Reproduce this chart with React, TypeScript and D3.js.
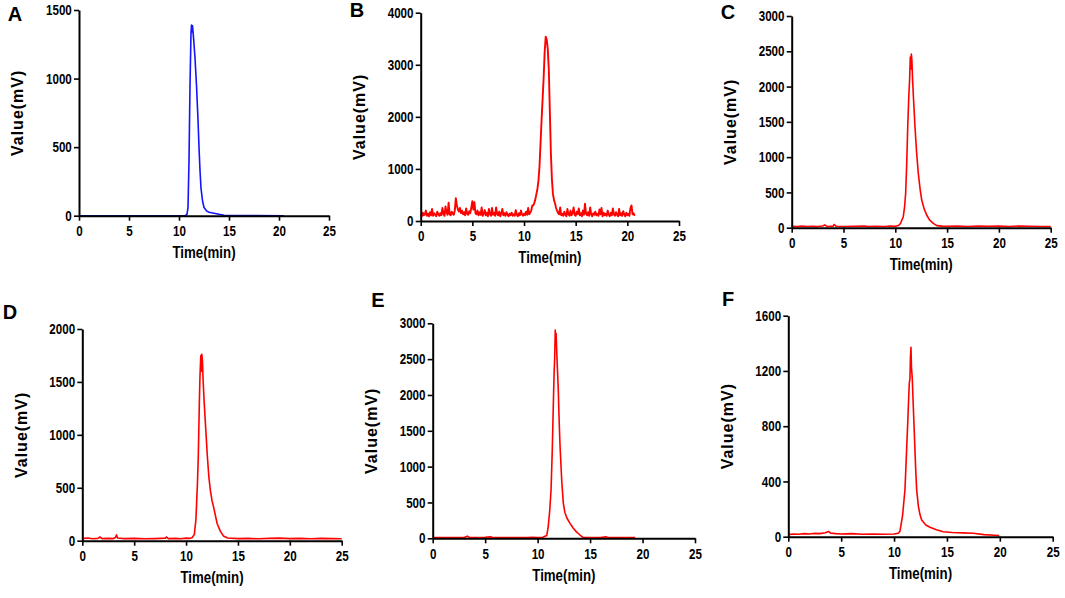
import * as d3 from "d3";
import { useEffect, useRef } from "react";

// x axis is the same on every panel
const timeTicks = [0, 5, 10, 15, 20, 25];

// panel A (blue trace), [time min, value mV]
const seriesA = [
  [0, 0], [5, 0], [10.6, 0], [10.8, 10], [10.9, 60], [11.0, 400], [11.1, 950],
  [11.2, 1330], [11.25, 1390], [11.3, 1340], [11.35, 1385], [11.45, 1300],
  [11.6, 1150], [11.75, 950], [11.9, 700], [12.0, 500], [12.1, 330], [12.2, 200],
  [12.35, 110], [12.5, 60], [12.75, 35], [13.0, 25], [13.5, 18], [14.0, 10],
  [14.5, 3], [15, 1], [20.5, 0],
];

// panel B is noisy, sampled every 0.1 min from 0 to 20.7
const bStep = 0.1;
const valuesB = [
  120, 90, 160, 110, 130, 200, 100, 140, 90, 170,
  110, 230, 100, 150, 120, 90, 180, 130, 100, 150,
  110, 250, 140, 100, 280, 160, 120, 350, 130, 110,
  180, 140, 120, 200, 440, 300, 220, 180, 250, 150,
  200, 130, 170, 110, 240, 140, 120, 190, 150, 260,
  380, 220, 360, 150, 130, 200, 110, 170, 120, 260,
  100, 140, 210, 110, 160, 90, 230, 130, 100, 250,
  120, 160, 100, 260, 130, 110, 180, 90, 140, 230,
  110, 150, 100, 170, 120, 90, 140, 110, 160, 100,
  130, 100, 210, 120, 90, 150, 110, 200, 130, 100,
  140, 110, 180, 120, 250, 130, 160, 200, 300, 300,
  350, 420, 520, 620, 780, 1050, 1500, 1940, 2350, 2750,
  3250, 3540, 3480, 3300, 2900, 2100, 1300, 800, 520, 400,
  340, 250, 200, 150, 130, 260, 110, 140, 100, 180,
  120, 90, 230, 130, 100, 200, 110, 150, 260, 120,
  100, 180, 130, 240, 110, 150, 90, 200, 120, 330,
  140, 110, 170, 100, 260, 130, 90, 150, 120, 180,
  110, 140, 100, 220, 130, 250, 90, 160, 110, 140,
  100, 200, 120, 90, 160, 110, 240, 130, 100, 170,
  120, 90, 230, 110, 150, 100, 190, 130, 90, 160,
  110, 140, 100, 250, 300, 130, 150, 100,
];
const seriesB = valuesB.map((v, i) => [i * bStep, v]);

const seriesC = [
  [0, 20], [0.5, 15], [1, 22], [1.5, 18], [2, 20], [2.5, 16], [3, 24], [3.2, 40],
  [3.4, 18], [4, 22], [4.1, 45], [4.3, 20], [5, 18], [6, 20], [7, 22], [7.5, 17],
  [8, 20], [9, 18], [9.5, 22], [10, 20], [10.3, 30], [10.5, 60], [10.77, 156],
  [10.9, 300], [11.0, 487], [11.1, 900], [11.2, 1431], [11.3, 1850], [11.38, 2093],
  [11.45, 2420], [11.5, 2250], [11.55, 2460], [11.6, 2380], [11.67, 2093],
  [11.75, 1850], [11.9, 1431], [12.05, 1080], [12.22, 770], [12.4, 540],
  [12.55, 392], [12.8, 260], [13.03, 180], [13.3, 110], [13.67, 62], [14, 30],
  [14.5, 22], [15, 20], [16, 22], [17, 18], [18, 24], [19, 20], [20, 22], [21, 18],
  [22, 25], [23, 20], [24, 16], [25, 18],
];

const seriesD = [
  [0, 20], [0.5, 25], [1, 18], [1.5, 22], [1.7, 35], [1.9, 20], [2.5, 22], [3, 20],
  [3.2, 30], [3.3, 55], [3.4, 25], [4, 20], [5, 22], [6, 18], [7, 20], [8, 24],
  [8.1, 35], [8.3, 20], [9, 22], [9.5, 18], [10, 24], [10.4, 22], [10.6, 30],
  [10.8, 60], [10.95, 200], [11.1, 550], [11.18, 800], [11.28, 1300], [11.34, 1550],
  [11.42, 1750], [11.47, 1600], [11.52, 1761], [11.58, 1700], [11.65, 1500],
  [11.75, 1300], [11.9, 1050], [12.05, 800], [12.2, 600], [12.35, 470], [12.5, 380],
  [12.65, 320], [12.8, 250], [13.0, 160], [13.3, 90], [13.6, 45], [14.0, 25],
  [15, 20], [16, 22], [17, 18], [18, 22], [19, 24], [20, 20], [21, 22], [22, 18],
  [23, 22], [24, 20], [25, 18],
];

const seriesE = [
  [0, 10], [1, 12], [2, 10], [3, 12], [3.3, 30], [3.5, 12], [4, 10], [5, 14],
  [5.5, 20], [5.7, 10], [6, 12], [7, 10], [8, 12], [9, 10], [9.5, 14], [10, 12],
  [10.5, 14], [10.87, 40], [11.0, 150], [11.15, 380], [11.28, 674], [11.4, 1250],
  [11.5, 1884], [11.57, 2300], [11.63, 2534], [11.68, 2906], [11.72, 2700],
  [11.76, 2860], [11.85, 2500], [11.97, 2069], [12.05, 1650], [12.14, 1278],
  [12.3, 800], [12.45, 488], [12.6, 360], [12.8, 280], [13.09, 209], [13.4, 140],
  [13.7, 90], [14.04, 46], [14.33, 12], [15, 10], [16, 12], [16.5, 20], [16.7, 10],
  [17, 12], [18, 10], [19, 12], [19.3, 10],
];

const seriesF = [
  [0, 15], [0.5, 20], [1, 18], [1.5, 22], [2, 20], [2.5, 24], [3, 22], [3.5, 28],
  [3.8, 38], [4, 26], [4.5, 22], [5, 20], [6, 22], [7, 18], [8, 20], [9, 18],
  [10, 20], [10.4, 25], [10.56, 40], [10.8, 150], [11.03, 338], [11.15, 560],
  [11.29, 821], [11.38, 1000], [11.44, 1111], [11.5, 1140], [11.55, 1300],
  [11.6, 1371], [11.65, 1220], [11.72, 1150], [11.82, 941], [11.95, 680],
  [12.05, 480], [12.14, 338], [12.3, 220], [12.45, 160], [12.61, 121], [13.0, 85],
  [13.4, 68], [14.0, 50], [14.66, 36], [15.5, 30], [16.5, 28], [17.5, 25],
  [18.5, 15], [19.5, 10], [19.95, 8],
];

const ticksA = [0, 500, 1000, 1500];
const ticksB = [0, 1000, 2000, 3000, 4000];
const ticksC = [0, 500, 1000, 1500, 2000, 2500, 3000];
const ticksD = [0, 500, 1000, 1500, 2000];
const ticksE = [0, 500, 1000, 1500, 2000, 2500, 3000];
const ticksF = [0, 400, 800, 1200, 1600];

// left, right, bottom, top of each plot area in pixels
const panels = [
  { letter: "A", data: seriesA, ticks: ticksA, color: "#1414ff", width: 1.6, box: [79, 329, 215.7, 10], lx: 15, ly: 16 },
  { letter: "B", data: seriesB, ticks: ticksB, color: "#ff0000", width: 1.9, box: [420.7, 679, 221, 12.7], lx: 357, ly: 12 },
  { letter: "C", data: seriesC, ticks: ticksC, color: "#ff0000", width: 1.6, box: [791.7, 1050.7, 227.7, 16], lx: 728, ly: 14 },
  { letter: "D", data: seriesD, ticks: ticksD, color: "#ff0000", width: 1.6, box: [82.3, 341.7, 540.7, 329], lx: 10, ly: 314 },
  { letter: "E", data: seriesE, ticks: ticksE, color: "#ff0000", width: 1.6, box: [432.7, 695, 538.3, 323.3], lx: 378, ly: 302 },
  { letter: "F", data: seriesF, ticks: ticksF, color: "#ff0000", width: 1.6, box: [788.3, 1052.7, 536.7, 315.7], lx: 728, ly: 301 },
];

const font = "'Liberation Sans', Arial, sans-serif";

export default function App() {
  const svgRef = useRef(null);

  useEffect(() => {
    const svg = d3.select(svgRef.current);
    svg.selectAll("*").remove();

    panels.forEach((p) => {
      const [left, right, bottom, top] = p.box;
      const x = d3.scaleLinear().domain([0, 25]).range([left, right]);
      const yMax = p.ticks[p.ticks.length - 1];
      const y = d3.scaleLinear().domain([0, yMax]).range([bottom, top]);

      const g = svg.append("g");

      // trace
      const line = d3
        .line()
        .x((d) => x(d[0]))
        .y((d) => y(d[1]));
      g.append("path")
        .datum(p.data)
        .attr("d", line)
        .attr("fill", "none")
        .attr("stroke", p.color)
        .attr("stroke-width", p.width)
        .attr("stroke-linejoin", "round");

      // axes
      const xAxis = g
        .append("g")
        .attr("transform", `translate(0,${bottom})`)
        .call(
          d3.axisBottom(x).tickValues(timeTicks).tickFormat(d3.format("d"))
            .tickSize(5).tickSizeOuter(0).tickPadding(5)
        );
      const yAxis = g
        .append("g")
        .attr("transform", `translate(${left},0)`)
        .call(
          d3.axisLeft(y).tickValues(p.ticks).tickFormat(d3.format("d"))
            .tickSize(5).tickSizeOuter(0).tickPadding(4)
        );

      [xAxis, yAxis].forEach((a) => {
        a.select(".domain").attr("stroke", "#000").attr("stroke-width", 2);
        a.selectAll(".tick line").attr("stroke", "#000").attr("stroke-width", 1.6);
        a.selectAll(".tick text")
          .attr("fill", "#000")
          .style("font-family", font)
          .style("font-weight", "bold")
          .style("font-size", "14.5px")
          .attr("transform", "scale(0.8,1)");
      });

      // axis titles
      g.append("text")
        .attr("transform", `translate(${(left + right) / 2},${bottom + 38}) scale(0.83,1)`)
        .attr("text-anchor", "middle")
        .attr("dominant-baseline", "middle")
        .style("font-family", font)
        .style("font-weight", "bold")
        .style("font-size", "16px")
        .text("Time(min)");

      g.append("text")
        .attr("transform", `translate(${left - 60},${(top + bottom) / 2}) rotate(-90)`)
        .attr("text-anchor", "middle")
        .attr("dominant-baseline", "middle")
        .style("font-family", font)
        .style("font-weight", "bold")
        .style("font-size", "16px")
        .style("letter-spacing", "1px")
        .text("Value(mV)");

      // panel letter
      g.append("text")
        .attr("x", p.lx)
        .attr("y", p.ly)
        .attr("text-anchor", "middle")
        .attr("dominant-baseline", "middle")
        .style("font-family", font)
        .style("font-weight", "bold")
        .style("font-size", "20px")
        .text(p.letter);
    });
  }, []);

  return (
    <svg
      ref={svgRef}
      width={1065}
      height={598}
      style={{ position: "absolute", left: 0, top: 0, background: "#fff" }}
    ></svg>
  );
}
